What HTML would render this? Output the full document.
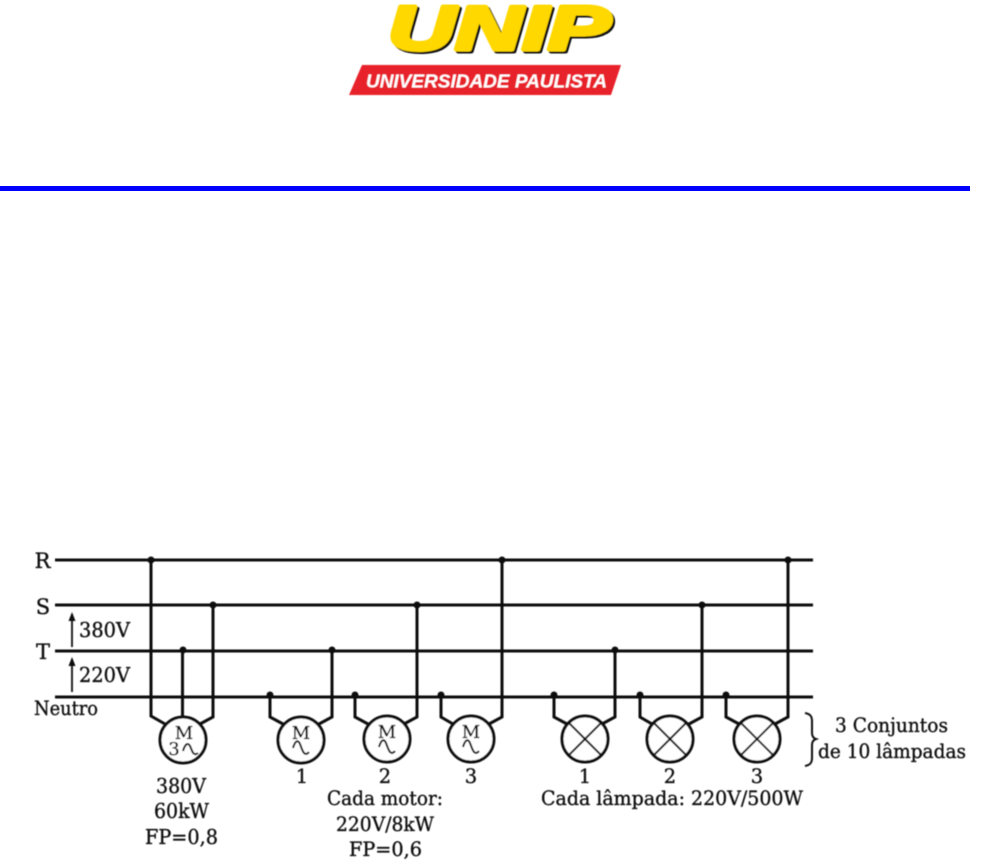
<!DOCTYPE html>
<html><head><meta charset="utf-8"><style>
html,body{margin:0;padding:0;background:#fff}
svg{display:block}
.t{font-family:"DejaVu Serif",serif;font-size:19.500px;fill:#111;stroke:#111;stroke-width:.35}
.m{text-anchor:middle}
.l{stroke:#111;fill:none;stroke-width:3;stroke-linejoin:miter}
.c{stroke:#111;fill:#fff;stroke-width:3}
.x{stroke:#111;stroke-width:2;fill:none}
.d{fill:#111}
</style></head><body>
<svg width="982" height="865" viewBox="0 0 982 865" xmlns="http://www.w3.org/2000/svg">
<defs><filter id="b" x="-2%" y="-2%" width="104%" height="104%"><feGaussianBlur stdDeviation="0.45"/></filter></defs>
<!-- logo -->
<g filter="url(#b)">
<text x="390" y="51.500" style="font-family:'Liberation Sans',sans-serif;font-weight:bold;font-style:italic;font-size:62px;fill:#111;stroke:#111;stroke-width:4;stroke-linejoin:round" textLength="222" lengthAdjust="spacingAndGlyphs">UNIP</text>
<text x="388" y="49.500" style="font-family:'Liberation Sans',sans-serif;font-weight:bold;font-style:italic;font-size:62px;fill:#ffd800;stroke:#ffd800;stroke-width:4;stroke-linejoin:round" textLength="222" lengthAdjust="spacingAndGlyphs">UNIP</text>
<polygon points="362,65 621,65 611,95 349,95" fill="#e8202a"/>
<text x="366" y="87.500" style="font-family:'Liberation Sans',sans-serif;font-weight:bold;font-style:italic;font-size:18.500px;fill:#fff" textLength="241" lengthAdjust="spacingAndGlyphs">UNIVERSIDADE PAULISTA</text>
</g>
<!-- blue rule -->
<rect x="0" y="186" width="970" height="5" fill="#0000ff"/>
<g filter="url(#b)">
<!-- buses -->
<g class="l">
<path d="M55 560H813M55 605H813M55 651H813M55 697H813"/>
<path d="M151 560V716L165 724M182.500 651V718M213 605V717L200 724"/>
<path d="M270 697V717L283 724M332 651V717L319 724"/>
<path d="M355 697V717L368 724M417 605V717L404 724"/>
<path d="M441 697V717L453 724M502 560V717L489 724"/>
<path d="M554 697V717L567 724M615 651V717L602 724"/>
<path d="M640 697V717L652 724M702 605V717L689 724"/>
<path d="M726 697V717L739 724M788 560V717L775 724"/>
</g>
<g class="d">
<circle cx="151" cy="560" r="3.500"/><circle cx="213" cy="605" r="3.500"/><circle cx="183" cy="650" r="3.500"/>
<circle cx="270" cy="695" r="3.500"/><circle cx="332" cy="650" r="3.500"/>
<circle cx="355" cy="695" r="3.500"/><circle cx="417" cy="605" r="3.500"/>
<circle cx="441" cy="695" r="3.500"/><circle cx="502" cy="560" r="3.500"/>
<circle cx="554" cy="695" r="3.500"/><circle cx="615" cy="650" r="3.500"/>
<circle cx="640" cy="695" r="3.500"/><circle cx="702" cy="605" r="3.500"/>
<circle cx="726" cy="695" r="3.500"/><circle cx="788" cy="560" r="3.500"/>
</g>
<!-- arrows -->
<path d="M72 647V618M72 692V663" stroke="#111" stroke-width="1.800" fill="none"/>
<path d="M72 612L75.500 621H68.500ZM72 657L75.500 666H68.500Z" class="d"/>
<!-- motors -->
<circle class="c" cx="183" cy="740" r="23"/>
<circle class="c" cx="301" cy="740" r="23"/>
<circle class="c" cx="387" cy="739" r="23"/>
<circle class="c" cx="471" cy="739" r="23"/>
<!-- lamps -->
<circle class="c" cx="585" cy="739" r="23"/><path class="x" d="M569 723L601 755M601 723L569 755"/>
<circle class="c" cx="670" cy="739" r="23"/><path class="x" d="M654 723L686 755M686 723L654 755"/>
<circle class="c" cx="757" cy="739" r="23"/><path class="x" d="M741 723L773 755M773 723L741 755"/>
<!-- sine glyphs -->
<g class="x">
<path d="M183 751C185 744 188 742 190 746S193 757 198 753"/>
<path d="M293 748C295 741 298 739 300 744S304 758 309 752"/>
<path d="M379 747C381 740 384 738 386 743S390 757 395 751"/>
<path d="M463 747C465 740 468 738 470 743S474 757 479 751"/>
</g>
<text class="t m" x="184" y="739" style="font-size:18px">M</text>
<text class="t m" x="174" y="755" style="font-size:18px">3</text>
<text class="t m" x="301" y="739" style="font-size:18px">M</text>
<text class="t m" x="387" y="738" style="font-size:18px">M</text>
<text class="t m" x="471" y="738" style="font-size:18px">M</text>
<!-- labels -->
<text class="t m" x="42.500" y="568" style="font-size:21px">R</text>
<text class="t m" x="43" y="614" style="font-size:21px">S</text>
<text class="t m" x="43" y="659" style="font-size:21px">T</text>
<text class="t" x="34" y="715" textLength="64" lengthAdjust="spacingAndGlyphs">Neutro</text>
<text class="t" x="79" y="637" style="font-size:20.500px" textLength="51" lengthAdjust="spacingAndGlyphs">380V</text>
<text class="t" x="79" y="682" style="font-size:20.500px" textLength="51" lengthAdjust="spacingAndGlyphs">220V</text>
<text class="t m" x="302" y="783">1</text>
<text class="t m" x="385" y="783">2</text>
<text class="t m" x="471" y="783">3</text>
<text class="t m" x="585" y="783">1</text>
<text class="t m" x="670" y="783">2</text>
<text class="t m" x="757" y="783">3</text>
<text class="t" x="156" y="793" style="font-size:20.500px" textLength="50" lengthAdjust="spacingAndGlyphs">380V</text>
<text class="t" x="154" y="818" style="font-size:20.500px" textLength="55" lengthAdjust="spacingAndGlyphs">60kW</text>
<text class="t" x="145" y="844" style="font-size:20.500px" textLength="73" lengthAdjust="spacingAndGlyphs">FP=0,8</text>
<text class="t" x="327" y="805" textLength="116" lengthAdjust="spacingAndGlyphs">Cada motor:</text>
<text class="t" x="336" y="831" textLength="98" lengthAdjust="spacingAndGlyphs">220V/8kW</text>
<text class="t" x="349" y="856" textLength="73" lengthAdjust="spacingAndGlyphs">FP=0,6</text>
<text class="t" x="541" y="805" textLength="262" lengthAdjust="spacingAndGlyphs">Cada lâmpada: 220V/500W</text>
<text class="t" x="835" y="732" textLength="113" lengthAdjust="spacingAndGlyphs">3 Conjuntos</text>
<text class="t" x="818" y="758" textLength="148" lengthAdjust="spacingAndGlyphs">de 10 lâmpadas</text>
<!-- brace -->
<path d="M805 713C810 714 812 716 812 721V733C812 736 813 738 816 739C813 740 812 742 812 745V758C812 763 810 765 805 766" fill="none" stroke="#111" stroke-width="2"/>
</g>
</svg>
</body></html>
